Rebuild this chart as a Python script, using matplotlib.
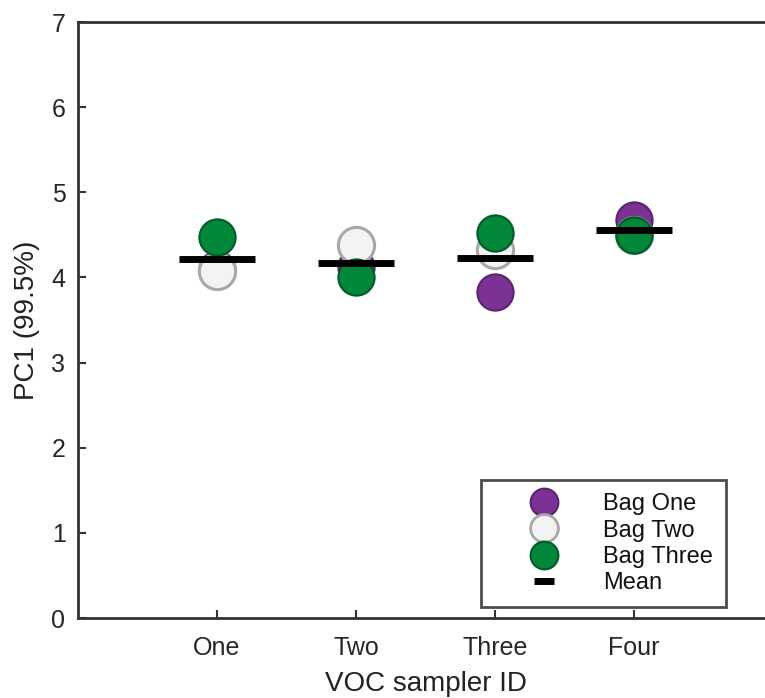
import matplotlib
matplotlib.use("Agg")
import matplotlib.pyplot as plt
from matplotlib.lines import Line2D

samplers = ["One", "Two", "Three", "Four"]
bag_one = [4.10, 4.12, 3.83, 4.68]
bag_two = [4.07, 4.38, 4.32, 4.50]
bag_three = [4.47, 4.01, 4.52, 4.50]
means = [(a + b + c) / 3 for a, b, c in zip(bag_one, bag_two, bag_three)]
yticks = [0, 1, 2, 3, 4, 5, 6, 7]

plt.rcParams['font.family'] = ['Liberation Sans', 'DejaVu Sans']

W, H = 765, 698
fig = plt.figure(figsize=(W / 100, H / 100), dpi=100)
ax = fig.add_axes([78 / W, 1 - 618 / H, 695 / W, 596 / H])

x = list(range(1, len(samplers) + 1))
ms = 680
ax.scatter(x, bag_one, s=ms, c="#7B3294", edgecolors="#5B2470", linewidths=1.5, zorder=3)
ax.scatter(x, bag_two, s=ms, c="#F3F3F3", edgecolors="#A8A8A8", linewidths=2.2, zorder=4)
ax.scatter(x, bag_three, s=ms, c="#00873A", edgecolors="#005C24", linewidths=1.5, zorder=5)
ax.hlines(means, [xi - 0.27 for xi in x], [xi + 0.27 for xi in x], colors="black", linewidth=5, zorder=6)

ax.set_xlim(0, 5)
ax.set_ylim(0, 7)
ax.set_xticks(x)
ax.set_xticklabels(samplers)
ax.set_yticks(yticks)
for s in ax.spines.values():
    s.set_color("#333333")
    s.set_linewidth(2)
ax.tick_params(direction="in", length=6, width=1.5, color="#333333", labelsize=18, labelcolor="#262626")
ax.tick_params(axis="x", pad=13)
ax.tick_params(axis="y", right=True, pad=9)
ax.set_xlabel("VOC sampler ID", fontsize=20, labelpad=8, color="#222222")
ax.set_ylabel("PC1 (99.5%)", fontsize=20, labelpad=8, color="#222222")

handles = [
    Line2D([], [], marker="o", linestyle="none", markersize=20, markerfacecolor="#7B3294", markeredgecolor="#5B2470", markeredgewidth=1.5),
    Line2D([], [], marker="o", linestyle="none", markersize=20, markerfacecolor="#F3F3F3", markeredgecolor="#A8A8A8", markeredgewidth=2),
    Line2D([], [], marker="o", linestyle="none", markersize=20, markerfacecolor="#00873A", markeredgecolor="#005C24", markeredgewidth=1.5),
    Line2D([], [], marker="_", linestyle="none", markersize=15, markeredgewidth=5, color="black"),
]
leg = ax.legend(handles, ["Bag One", "Bag Two", "Bag Three", "Mean"], loc="lower right",
                bbox_to_anchor=(726 / W, 1 - 607 / H), bbox_transform=fig.transFigure,
                borderaxespad=0, fontsize=17, handlelength=4.2, handletextpad=0.42,
                labelspacing=0.18, borderpad=0.55, fancybox=False, frameon=True)
leg.get_frame().set_edgecolor("#222222")
leg.get_frame().set_linewidth(2)
leg.set_zorder(10)
for t in leg.get_texts():
    t.set_color("#111111")

fig.savefig("out.png", dpi=100)
